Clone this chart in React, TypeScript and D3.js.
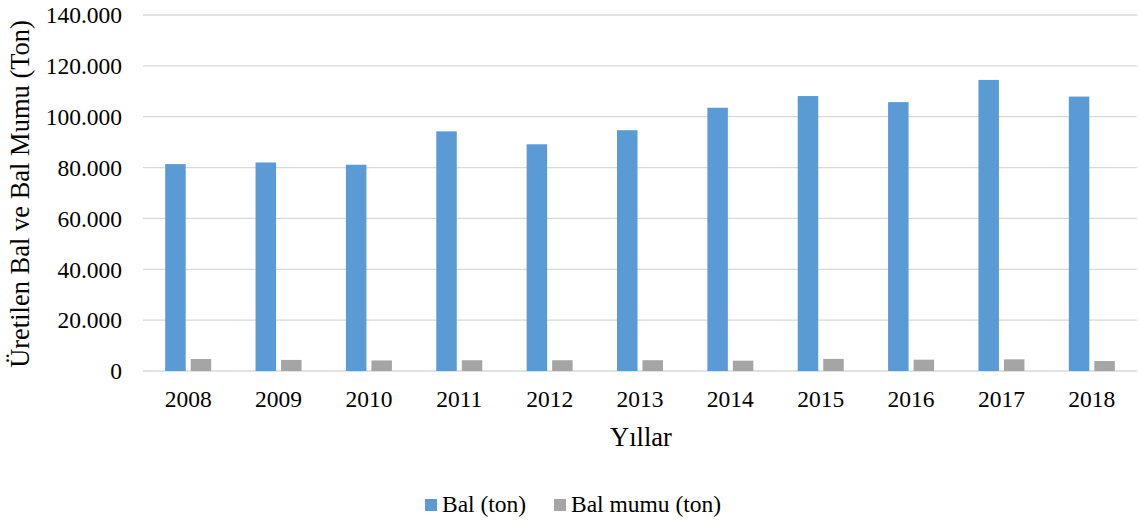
import * as d3 from 'd3';
import { useEffect, useRef } from 'react';

const years = ['2008', '2009', '2010', '2011', '2012', '2013', '2014', '2015', '2016', '2017', '2018'];
const bal = [81364, 82003, 81115, 94245, 89162, 94694, 103525, 108128, 105727, 114471, 107920];
const balMumu = [4718, 4357, 4148, 4235, 4241, 4244, 4053, 4756, 4452, 4578, 3914];
const seriesNames = ['Bal (ton)', 'Bal mumu (ton)'];
const yTicks = [0, 20000, 40000, 60000, 80000, 100000, 120000, 140000];

export default function App() {
  const ref = useRef<SVGSVGElement | null>(null);

  useEffect(() => {
    if (!ref.current) return;
    const svg = d3.select(ref.current);
    svg.selectAll('*').remove();

    const width = 1140;
    const height = 523;
    const margin = { top: 15, right: 3, bottom: 152, left: 143 };
    const colors = ['#5B9BD5', '#A5A5A5'];

    const x0 = d3.scaleBand<string>().domain(years).range([margin.left, width - margin.right]);
    const y = d3.scaleLinear().domain([0, 140000]).range([height - margin.bottom, margin.top]);
    const fmt = (v: number) => d3.format(',')(v).replace(/,/g, '.');

    svg.attr('font-family', 'Liberation Serif, serif').attr('fill', '#000');

    // gridlines
    svg
      .append('g')
      .selectAll('line')
      .data(yTicks)
      .enter()
      .append('line')
      .attr('x1', margin.left)
      .attr('x2', width - margin.right)
      .attr('y1', (d) => y(d))
      .attr('y2', (d) => y(d))
      .attr('stroke', '#D9D9D9')
      .attr('stroke-width', 1.3);

    // y tick labels
    svg
      .append('g')
      .selectAll('text')
      .data(yTicks)
      .enter()
      .append('text')
      .attr('x', 122)
      .attr('y', (d) => y(d))
      .attr('dy', '0.35em')
      .attr('text-anchor', 'end')
      .attr('font-size', 23.5)
      .text((d) => fmt(d));

    // bars
    const barW = 20.5;
    const gap = 5;
    const rows = years.map((yr, i) => ({ yr, vals: [bal[i], balMumu[i]] }));
    const groups = svg
      .append('g')
      .selectAll('g')
      .data(rows)
      .enter()
      .append('g')
      .attr('transform', (d) => `translate(${(x0(d.yr) || 0) + x0.bandwidth() / 2},0)`);
    groups
      .selectAll('rect')
      .data((d) => d.vals.map((v, k) => ({ v, k })))
      .enter()
      .append('rect')
      .attr('x', (d) => (d.k === 0 ? -gap / 2 - barW : gap / 2))
      .attr('y', (d) => y(d.v))
      .attr('width', barW)
      .attr('height', (d) => y(0) - y(d.v))
      .attr('fill', (d) => colors[d.k]);

    // x labels
    svg
      .append('g')
      .selectAll('text')
      .data(years)
      .enter()
      .append('text')
      .attr('x', (d) => (x0(d) || 0) + x0.bandwidth() / 2)
      .attr('y', 407)
      .attr('text-anchor', 'middle')
      .attr('font-size', 23.5)
      .text((d) => d);

    // axis titles
    svg
      .append('text')
      .attr('x', 641)
      .attr('y', 446)
      .attr('text-anchor', 'middle')
      .attr('font-size', 26.5)
      .text('Yıllar');
    svg
      .append('text')
      .attr('transform', `translate(29, 194) rotate(-90)`)
      .attr('text-anchor', 'middle')
      .attr('font-size', 26.5)
      .text('Üretilen Bal ve Bal Mumu (Ton)');

    // legend
    const legendX = [425, 554];
    seriesNames.forEach((name, i) => {
      const g = svg.append('g').attr('transform', `translate(${legendX[i]}, 499)`);
      g.append('rect').attr('width', 12).attr('height', 12).attr('fill', colors[i]);
      g.append('text').attr('x', 17).attr('y', 13).attr('font-size', 23.5).text(name);
    });
  }, []);

  return (
    <svg
      ref={ref}
      width={1140}
      height={523}
      style={{ position: 'absolute', left: 0, top: 0, background: '#fff' }}
    />
  );
}
